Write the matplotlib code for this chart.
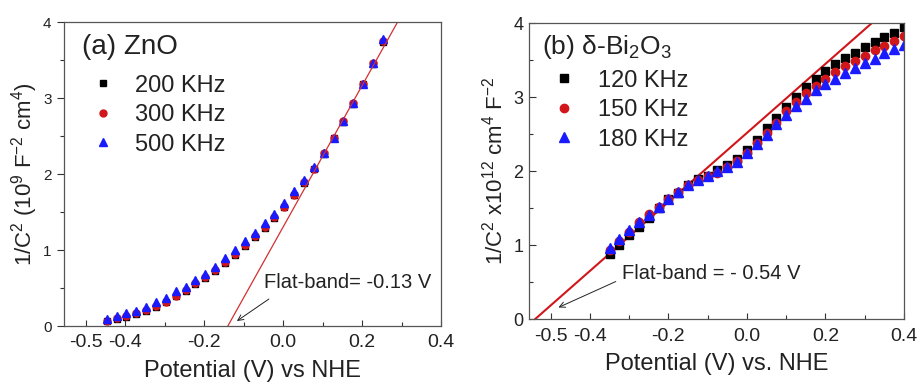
import numpy as np
import matplotlib
matplotlib.use("Agg")
import matplotlib.pyplot as plt

plt.rcParams['font.family'] = ['Liberation Sans', 'DejaVu Sans']
plt.rcParams['mathtext.fontset'] = 'custom'
plt.rcParams['mathtext.rm'] = 'Liberation Sans'
plt.rcParams['mathtext.it'] = 'Liberation Sans:italic'

# (a) ZnO
zno_v = np.arange(29) * 0.025 - 0.447
zno_500 = [0.09, 0.135, 0.17, 0.20, 0.25, 0.31, 0.37, 0.455, 0.51, 0.60,
           0.68, 0.78, 0.89, 1.00, 1.12, 1.23, 1.35, 1.48, 1.62, 1.77,
           1.92, 2.09, 2.27, 2.48, 2.70, 2.93, 3.19, 3.46, 3.77]
zno_300 = [0.065, 0.10, 0.13, 0.165, 0.21, 0.26, 0.315, 0.40, 0.47, 0.56,
           0.64, 0.74, 0.84, 0.95, 1.06, 1.18, 1.30, 1.43, 1.57, 1.73,
           1.89, 2.07, 2.27, 2.48, 2.70, 2.93, 3.19, 3.46, 3.75]
zno_200 = [0.06, 0.095, 0.125, 0.16, 0.20, 0.25, 0.31, 0.39, 0.46, 0.55,
           0.63, 0.73, 0.83, 0.94, 1.05, 1.17, 1.29, 1.42, 1.56, 1.72,
           1.88, 2.06, 2.26, 2.47, 2.69, 2.92, 3.18, 3.45, 3.74]
zno_fb = -0.14
zno_slope = 9.3

# (b) delta-Bi2O3
bi_v = np.arange(31) * 0.025 - 0.35
bi_120 = [0.88, 1.00, 1.14, 1.25, 1.37, 1.50, 1.62, 1.71, 1.81, 1.90,
          1.94, 2.01, 2.08, 2.16, 2.28, 2.42, 2.58, 2.72, 2.86, 3.00,
          3.13, 3.24, 3.35, 3.45, 3.53, 3.60, 3.67, 3.74, 3.81, 3.87, 3.94]
bi_150 = [0.93, 1.06, 1.18, 1.31, 1.42, 1.52, 1.62, 1.72, 1.81, 1.88,
          1.94, 1.97, 2.06, 2.14, 2.25, 2.38, 2.51, 2.65, 2.81, 2.94,
          3.05, 3.15, 3.25, 3.34, 3.42, 3.49, 3.56, 3.63, 3.69, 3.76, 3.82]
bi_180 = [0.96, 1.08, 1.20, 1.31, 1.41, 1.51, 1.62, 1.72, 1.81, 1.88,
          1.94, 2.00, 2.05, 2.13, 2.24, 2.36, 2.49, 2.63, 2.76, 2.88,
          2.98, 3.09, 3.18, 3.24, 3.32, 3.39, 3.46, 3.52, 3.59, 3.65, 3.70]
bi_fb = -0.54
bi_slope = 4.66

tick_color = '#333333'
txt = '#222222'

fig = plt.figure(figsize=(9.17, 3.86), dpi=100)
ax1 = fig.add_axes([0.0698, 0.1554, 0.4111, 0.7876])
ax2 = fig.add_axes([0.5769, 0.1728, 0.4089, 0.7676])


def style(ax, ysize, ydir):
    ax.set_xlim(-0.555, 0.40)
    ax.set_ylim(0, 4)
    ax.set_xticks([-0.5, -0.4, -0.2, 0.0, 0.2, 0.4])
    ax.set_xticklabels(['-0.5', '-0.4', '-0.2', '0.0', '0.2', '0.4'])
    ax.set_xticks([-0.3, -0.1, 0.1, 0.3], minor=True)
    ax.set_yticks([0, 1, 2, 3, 4])
    ax.set_yticks([0.5, 1.5, 2.5, 3.5], minor=True)
    ax.tick_params(axis='x', which='major', direction='in', top=False,
                   labelsize=14, length=4, width=0.8, colors=tick_color,
                   labelcolor=txt, pad=6)
    ax.tick_params(axis='x', which='minor', direction='in', top=False,
                   length=3, width=0.8, colors=tick_color)
    ax.tick_params(axis='y', which='major', direction=ydir, right=False,
                   labelsize=ysize, length=5, width=0.8, colors=tick_color,
                   labelcolor=txt, pad=4)
    ax.tick_params(axis='y', which='minor', direction=ydir, length=3,
                   width=0.8, colors=tick_color)
    for s in ax.spines.values():
        s.set_color('#555555')
        s.set_linewidth(0.9)


# panel a
ax1.plot(zno_v, zno_200, 's', color='black', ms=5, label='200 KHz')
ax1.plot(zno_v, zno_300, 'o', color='#d0161b', ms=5, label='300 KHz')
ax1.plot(zno_v, zno_500, '^', color='#1a1aff', ms=6, label='500 KHz')
fx = np.array([zno_fb, 0.32])
ax1.plot(fx, zno_slope * (fx - zno_fb), color='#d43030', lw=0.9)
style(ax1, 11, 'out')
ax1.set_xlabel('Potential (V) vs NHE', fontsize=17, color=txt, labelpad=6)
ax1.set_ylabel('1/C$^2$ (10$^9$ F$^{-2}$ cm$^4$)', fontsize=16, color=txt, labelpad=2)
ax1.text(-0.51, 3.67, '(a) ZnO', fontsize=20, va='center', color=txt)
ax1.legend(loc='upper left', bbox_to_anchor=(0.071, 0.827), frameon=False,
           fontsize=17, handletextpad=0.87, labelspacing=0.32,
           borderaxespad=0, borderpad=0, handlelength=1.0,
           labelcolor=txt)
ax1.text(-0.049, 0.566, 'Flat-band= -0.13 V', fontsize=14.5, color=txt,
         ha='left', va='center')
ax1.annotate('', xy=(-0.117, 0.066), xytext=(-0.036, 0.355),
             arrowprops=dict(arrowstyle='->', color=txt, lw=0.7,
                             shrinkA=0, shrinkB=0))

# panel b
ax2.plot(bi_v, bi_120, 's', color='black', ms=5.5, label='120 KHz')
ax2.plot(bi_v, bi_150, 'o', color='#d0161b', ms=6, label='150 KHz')
ax2.plot(bi_v, bi_180, '^', color='#1a1aff', ms=6.5, label='180 KHz')
fx = np.array([-0.56, 0.33])
ax2.plot(fx, bi_slope * (fx - bi_fb), color='#d0161b', lw=1.5, zorder=1)
style(ax2, 13, 'in')
ax2.set_xlabel('Potential (V) vs. NHE', fontsize=17, color=txt, labelpad=6)
ax2.set_ylabel('1/C$^2$ x10$^{12}$ cm$^4$ F$^{-2}$', fontsize=16, color=txt, labelpad=4)
ax2.text(-0.522, 3.68, '(b) δ-Bi$_2$O$_3$', fontsize=19, va='center', color=txt)
ax2.legend(loc='upper left', bbox_to_anchor=(0.062, 0.843), frameon=False,
           fontsize=17, handletextpad=0.95, labelspacing=0.32,
           borderaxespad=0, borderpad=0, handlelength=1.0,
           labelcolor=txt)
ax2.text(-0.317, 0.625, 'Flat-band = - 0.54 V', fontsize=14.5, color=txt,
         ha='left', va='center')
ax2.annotate('', xy=(-0.48, 0.16), xytext=(-0.334, 0.51),
             arrowprops=dict(arrowstyle='->', color=txt, lw=0.7,
                             shrinkA=0, shrinkB=0))

fig.savefig('out.png', dpi=100)
